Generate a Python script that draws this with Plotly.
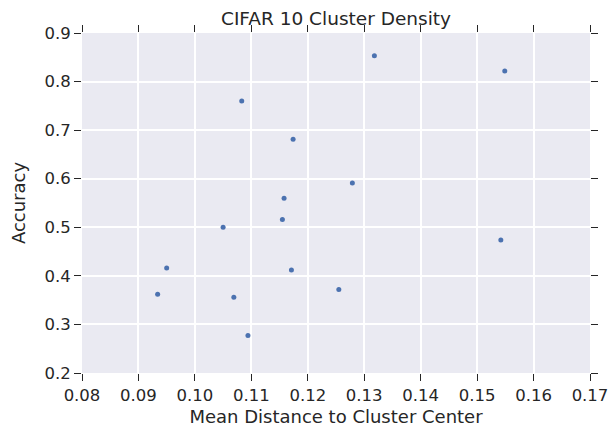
import plotly.graph_objects as go

mean_distance = [0.1318, 0.1549, 0.1083, 0.1174, 0.1279, 0.1158, 0.1155, 0.1050,
                 0.0950, 0.1171, 0.1255, 0.0934, 0.1069, 0.1094, 0.1542]
accuracy = [0.853, 0.822, 0.760, 0.681, 0.591, 0.560, 0.516, 0.500,
            0.416, 0.412, 0.372, 0.362, 0.356, 0.277, 0.474]

x_ticks = [0.08, 0.09, 0.10, 0.11, 0.12, 0.13, 0.14, 0.15, 0.16, 0.17]
y_ticks = [0.2, 0.3, 0.4, 0.5, 0.6, 0.7, 0.8, 0.9]

txt = "#262626"
font = "DejaVu Sans"

fig = go.Figure()
fig.add_trace(go.Scatter(
    x=mean_distance, y=accuracy, mode="markers",
    marker=dict(color="#4c72b0", size=5, line=dict(width=0)),
    hoverinfo="x+y", showlegend=False,
))

fig.update_layout(
    width=611, height=427,
    margin=dict(l=82, r=21, t=33, b=54, autoexpand=False),
    paper_bgcolor="white", plot_bgcolor="#eaeaf2",
    font=dict(family=font, color=txt),
    title=dict(text="CIFAR 10 Cluster Density", x=0.5, xref="paper",
               y=1, yref="paper", yanchor="bottom", pad=dict(b=8),
               automargin=False,
               font=dict(size=18.5, color=txt, family=font)),
)
fig.update_xaxes(
    range=[0.08, 0.17], tickvals=x_ticks,
    ticktext=[f"{v:.2f}" for v in x_ticks],
    showgrid=True, gridcolor="white", gridwidth=1.5, zeroline=False,
    showline=False, ticks="outside", ticklen=7, tickwidth=1.3, tickcolor=txt,
    mirror="ticks", automargin=False,
    tickfont=dict(size=16.5, color=txt, family=font),
    title=dict(text="Mean Distance to Cluster Center", standoff=11,
               font=dict(size=18, color=txt, family=font)),
)
fig.update_yaxes(
    range=[0.2, 0.9], tickvals=y_ticks,
    ticktext=[f"{v:.1f}" for v in y_ticks],
    showgrid=True, gridcolor="white", gridwidth=1.5, zeroline=False,
    showline=False, ticks="outside", ticklen=7, tickwidth=1.3, tickcolor=txt,
    mirror="ticks", automargin=False,
    tickfont=dict(size=16.5, color=txt, family=font),
    title=dict(text="Accuracy", standoff=14,
               font=dict(size=18, color=txt, family=font)),
)

fig.write_html("out.html", config={"displayModeBar": False},
               post_script="document.body.style.margin='0px';")
